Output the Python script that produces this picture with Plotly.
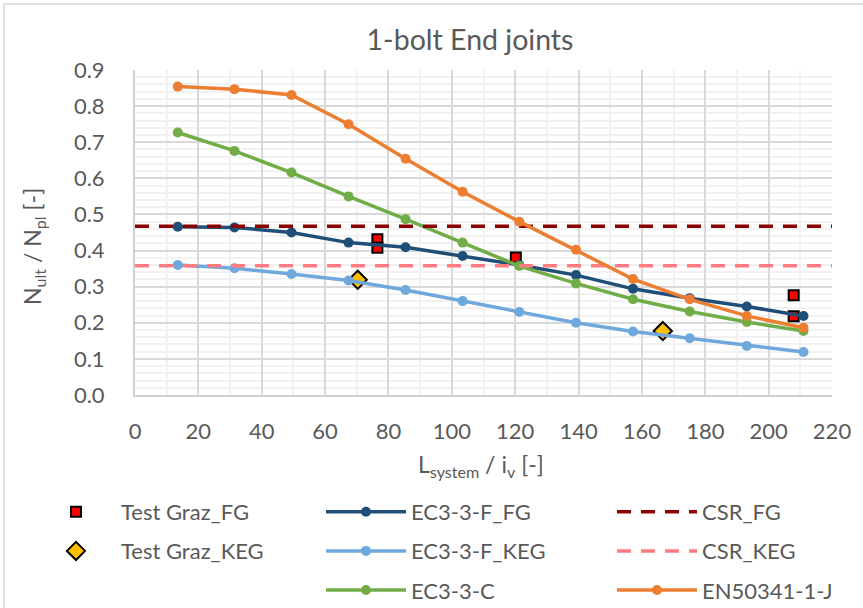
import plotly.graph_objects as go

# Slenderness values shared by all design curves
slenderness = [13.5, 31.4, 49.4, 67.4, 85.4, 103.4, 121.3, 139.2, 157.2, 175.1, 193.1, 211.0]

ec3_f_fg = [0.466, 0.464, 0.450, 0.422, 0.409, 0.385, 0.360, 0.332, 0.294, 0.268, 0.245, 0.219]
ec3_f_keg = [0.360, 0.351, 0.335, 0.317, 0.291, 0.260, 0.230, 0.200, 0.176, 0.157, 0.136, 0.119]
ec3_c = [0.727, 0.676, 0.616, 0.550, 0.487, 0.422, 0.357, 0.309, 0.265, 0.231, 0.202, 0.177]
en50341_j = [0.854, 0.847, 0.831, 0.750, 0.654, 0.563, 0.480, 0.402, 0.321, 0.265, 0.219, 0.186]

# Test results
test_fg_x = [76.5, 76.5, 120.2, 207.9, 207.9]
test_fg_y = [0.431, 0.408, 0.381, 0.276, 0.218]
test_keg_x = [70.3, 166.6]
test_keg_y = [0.319, 0.177]

# Constant CSR levels
csr_x = [0, 220]
csr_fg = 0.467
csr_keg = 0.358

FONT = "Lato"
GREY = "#595959"

fig = go.Figure()

fig.add_trace(go.Scatter(
    x=test_fg_x, y=test_fg_y, mode="markers", name="Test Graz_FG",
    marker=dict(symbol="square", size=10, color="#FF0000", line=dict(color="black", width=2)),
    legend="legend", legendgroup="a"))
fig.add_trace(go.Scatter(
    x=test_keg_x, y=test_keg_y, mode="markers", name="Test Graz_KEG",
    marker=dict(symbol="diamond", size=14, color="#FFC000", line=dict(color="black", width=2)),
    legend="legend", legendgroup="b"))

line_series = [
    ("EC3-3-F_FG", ec3_f_fg, "#1F4E79"),
    ("EC3-3-F_KEG", ec3_f_keg, "#6FA8DC"),
    ("EC3-3-C", ec3_c, "#70AD47"),
]
for i, (name, vals, col) in enumerate(line_series):
    fig.add_trace(go.Scatter(
        x=slenderness, y=vals, mode="lines+markers", name=name,
        line=dict(color=col, width=3.5),
        marker=dict(symbol="circle", size=10, color=col),
        legend="legend2", legendgroup="c%d" % i))

fig.add_trace(go.Scatter(
    x=csr_x, y=[csr_fg, csr_fg], mode="lines", name="CSR_FG",
    line=dict(color="#8B0000", width=3.5, dash="14px,10px"),
    legend="legend3", legendgroup="d0"))
fig.add_trace(go.Scatter(
    x=csr_x, y=[csr_keg, csr_keg], mode="lines", name="CSR_KEG",
    line=dict(color="#FF7C80", width=3.5, dash="14px,10px"),
    legend="legend3", legendgroup="d1"))
fig.add_trace(go.Scatter(
    x=slenderness, y=en50341_j, mode="lines+markers", name="EN50341-1-J",
    line=dict(color="#ED7D31", width=3.5),
    marker=dict(symbol="circle", size=10, color="#ED7D31"),
    legend="legend3", legendgroup="d2"))

W, H = 863, 608
L, R, T, B = 135, 31, 70, 213
pw, ph = W - L - R, H - T - B


def px_x(p):
    return (p - L) / pw


def px_y(p):
    return (H - B - p) / ph


legend_common = dict(
    orientation="v", yanchor="top", xanchor="left",
    font=dict(family=FONT, size=22, color=GREY),
    bgcolor="rgba(0,0,0,0)", itemwidth=80, tracegroupgap=7.5,
    itemclick=False, itemdoubleclick=False)

fig.update_layout(
    width=W, height=H,
    margin=dict(l=L, r=R, t=T, b=B, autoexpand=False),
    paper_bgcolor="white", plot_bgcolor="white",
    font=dict(family=FONT, color=GREY),
    title=dict(text="1-bolt End joints", x=470 / W, xref="container", xanchor="center",
               y=1 - 40 / H, yref="container", yanchor="middle",
               font=dict(family=FONT, size=28.5, color=GREY)),
    legend=dict(x=px_x(31), y=px_y(491), **legend_common),
    legend2=dict(x=px_x(321), y=px_y(491), **legend_common),
    legend3=dict(x=px_x(612), y=px_y(491), **legend_common),
    xaxis=dict(range=[0, 220], dtick=20, tick0=0, showgrid=True,
               gridcolor="#D9D9D9", gridwidth=1.5,
               minor=dict(dtick=10, showgrid=True, gridcolor="#F2F2F2", gridwidth=1.5),
               showline=True, linecolor="#D0D0D0", linewidth=2,
               zeroline=False, ticks="", ticklabelstandoff=16,
               tickfont=dict(family=FONT, size=22, color=GREY)),
    yaxis=dict(range=[0, 0.9], dtick=0.1, tick0=0, tickformat=".1f", showgrid=True,
               gridcolor="#D9D9D9", gridwidth=1.5,
               minor=dict(dtick=0.02, showgrid=True, gridcolor="#F2F2F2", gridwidth=1.5),
               showline=True, linecolor="#D0D0D0", linewidth=2,
               zeroline=False, ticks="", ticklabelstandoff=24,
               tickfont=dict(family=FONT, size=22, color=GREY)),
    annotations=[
        dict(text="N<sub>ult</sub> / N<sub>pl</sub> [-]", xref="paper", yref="paper",
             x=px_x(33), y=px_y(247), textangle=-90, showarrow=False,
             xanchor="center", yanchor="middle", font=dict(family=FONT, size=23, color=GREY)),
        dict(text="L<sub>system</sub> / i<sub>v</sub> [-]", xref="paper", yref="paper",
             x=px_x(481), y=px_y(465), showarrow=False,
             xanchor="center", yanchor="middle", font=dict(family=FONT, size=23, color=GREY)),
    ],
    shapes=[
        dict(type="rect", xref="paper", yref="paper", layer="below",
             x0=px_x(4), x1=px_x(W + 20), y0=px_y(H + 20), y1=px_y(4),
             line=dict(color="#D9D9D9", width=1.5), fillcolor="rgba(0,0,0,0)"),
    ],
)

fig.write_html("out.html")
